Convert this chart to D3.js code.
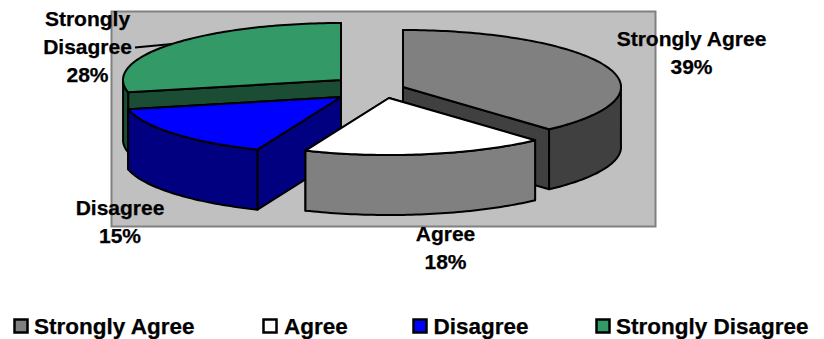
<!DOCTYPE html>
<html>
<head>
<meta charset="utf-8">
<style>
  html, body { margin: 0; padding: 0; background: #fff; }
  svg { display: block; }
  text { font-family: "Liberation Sans", Arial, sans-serif; font-weight: bold; fill: #000; stroke: #000; stroke-width: 0.25px; }
</style>
<script src="https://cdn.jsdelivr.net/npm/d3@7"></script>
</head>
<body>
<svg id="chart" width="824" height="339"></svg>
<script>
// Survey responses
const categories = ["Strongly Agree", "Agree", "Disagree", "Strongly Disagree"];
const percentages = [39, 18, 15, 28];
const topColors = ["#808080", "#ffffff", "#0000ff", "#339966"];
const wallColors = ["#404040", "#808080", "#000080", "#1a4d33"];

// Layout of the exploded pie: each wedge has its own apex
const apexes = [[403, 87], [389, 98], [341, 97], [341, 80]];
const rx = 218, ry = 57, depth = 60;
const paintOrder = [3, 0, 2, 1];

// Label blocks (anchor centre, first baseline), one per category
const labelLines = [["Strongly Agree"], ["Agree"], ["Disagree"], ["Strongly", "Disagree"]];
const labelAnchors = [[691.5, 45.5], [445.5, 240.5], [120, 215], [87.5, 26]];
const labelSize = 21, labelLeading = 28;

// Legend layout
const legendSwatchX = [14.5, 263.5, 413.5, 596.5];
const legendTextX = [34, 284, 433.5, 616];

const svg = d3.select("#chart");

// Plot area
svg.append("rect")
  .attr("x", 111.5).attr("y", 11.5).attr("width", 544).attr("height", 215)
  .attr("fill", "#c0c0c0").attr("stroke", "#808080").attr("stroke-width", 2);

const pie = d3.pie().sort(null).value(d => d);
const wedges = pie(percentages);

// The chart's 3D view rotates the front of the ellipse slightly
const viewSkew = 2.8 * Math.PI / 180;
const warp = a => a - viewSkew * (1 - Math.cos(a)) / 2;

const project = (apex, a, drop = 0) => {
  const t = warp(a);
  return [apex[0] + rx * Math.sin(t), apex[1] - ry * Math.cos(t) + drop];
};

const line = d3.line();
const arcAngles = (a0, a1) => {
  const n = Math.max(2, Math.ceil((a1 - a0) / 0.02));
  return d3.range(n + 1).map(i => a0 + (a1 - a0) * i / n);
};

const face = (d, fill) => svg.append("path")
  .attr("d", line(d) + "Z")
  .attr("fill", fill)
  .attr("stroke", "#000")
  .attr("stroke-width", 2)
  .attr("stroke-linejoin", "round");

paintOrder.forEach(i => {
  const w = wedges[i], c = apexes[i];
  const cut = a => [c, project(c, a), project(c, a, depth), [c[0], c[1] + depth]];

  // Outer rim, only where it faces the viewer
  const a0 = Math.max(w.startAngle, Math.PI / 2);
  const a1 = Math.min(w.endAngle, 3 * Math.PI / 2);

  // Radial cut faces: the trailing one sits behind the leading one
  face(cut(w.endAngle), wallColors[i]);
  face(cut(w.startAngle), wallColors[i]);

  if (a1 > a0) {
    const arc = arcAngles(a0, a1);
    face(arc.map(a => project(c, a)).concat(arc.slice().reverse().map(a => project(c, a, depth))), wallColors[i]);
  }

  // Top surface
  face([c].concat(arcAngles(w.startAngle, w.endAngle).map(a => project(c, a))), topColors[i]);
});

// Leader line for the label sitting beside the largest left wedge
svg.append("line")
  .attr("x1", 135).attr("y1", 47.5).attr("x2", 172).attr("y2", 44)
  .attr("stroke", "#000").attr("stroke-width", 2);

// Data labels
categories.forEach((name, i) => {
  const rows = labelLines[i].concat(percentages[i] + "%");
  svg.append("text")
    .attr("text-anchor", "middle")
    .attr("font-size", labelSize)
    .selectAll("tspan").data(rows).join("tspan")
    .attr("x", labelAnchors[i][0])
    .attr("y", (r, k) => labelAnchors[i][1] + k * labelLeading)
    .text(r => r);
});

// Legend
categories.forEach((name, i) => {
  svg.append("rect")
    .attr("x", legendSwatchX[i]).attr("y", 319.5).attr("width", 13).attr("height", 13)
    .attr("fill", topColors[i]).attr("stroke", "#000").attr("stroke-width", 2.5);
  svg.append("text")
    .attr("x", legendTextX[i]).attr("y", 334)
    .attr("font-size", 22.5)
    .text(name);
});
</script>
</body>
</html>
